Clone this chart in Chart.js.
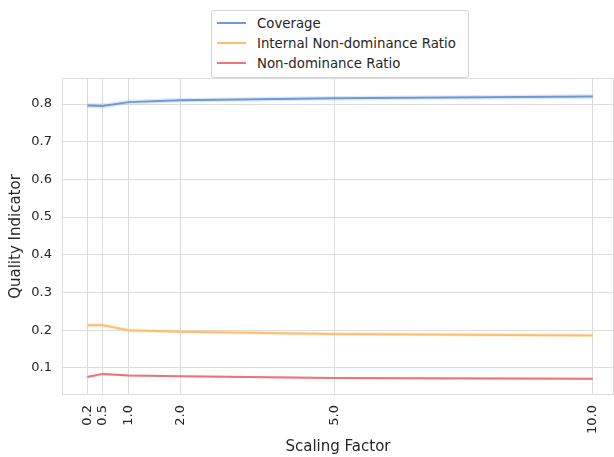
<!DOCTYPE html>
<html>
<head>
<meta charset="utf-8">
<script src="https://cdn.jsdelivr.net/npm/chart.js@4/dist/chart.umd.min.js"></script>
<style>
  html, body { margin: 0; padding: 0; background: #fff; }
  #wrap { position: relative; width: 614px; height: 457px; }
  #legend {
    position: absolute; left: 211px; top: 10px; width: 256px; height: 64px;
    border: 1px solid #d4d4d4; border-radius: 3px; background: #fff;
    font-family: "DejaVu Sans", sans-serif; font-size: 13.3px; color: #262626;
    padding-top: 2px;
  }
  .row { height: 20px; display: flex; align-items: center; }
  .swatch { width: 29px; height: 2px; margin-left: 5px; margin-right: 11px; }
</style>
</head>
<body>
<div id="wrap">
  <canvas id="chart" width="614" height="457"></canvas>
  <div id="legend"></div>
</div>
<script>
document.addEventListener("DOMContentLoaded", function () {
  const scalingFactors = [0.2, 0.5, 1.0, 2.0, 5.0, 10.0];
  const coverage = [0.796, 0.795, 0.805, 0.810, 0.815, 0.820];
  const internalRatio = [0.213, 0.213, 0.200, 0.196, 0.190, 0.186];
  const nonDomRatio = [0.076, 0.084, 0.080, 0.078, 0.073, 0.071];
  // spread of the shaded bands
  const coverageSpread = [0.007, 0.007, 0.006, 0.006, 0.006, 0.006];
  const internalSpread = [0.006, 0.006, 0.005, 0.005, 0.005, 0.005];
  const nonDomSpread = [0.004, 0.004, 0.003, 0.003, 0.003, 0.003];
  const yTicks = [0.1, 0.2, 0.3, 0.4, 0.5, 0.6, 0.7, 0.8];

  const series = [
    { label: "Coverage", values: coverage, spread: coverageSpread, color: "110,154,214" },
    { label: "Internal Non-dominance Ratio", values: internalRatio, spread: internalSpread, color: "255,190,110" },
    { label: "Non-dominance Ratio", values: nonDomRatio, spread: nonDomSpread, color: "238,116,118" },
  ];

  const pts = (vals, off, sign) =>
    scalingFactors.map((x, i) => ({ x: x, y: vals[i] + sign * (off ? off[i] : 0) }));

  const datasets = [];
  series.forEach(function (s) {
    datasets.push({
      data: pts(s.values, s.spread, -1),
      borderWidth: 0, pointRadius: 0, fill: false, borderColor: "transparent",
    });
    datasets.push({
      data: pts(s.values, s.spread, 1),
      borderWidth: 0, pointRadius: 0, fill: "-1", borderColor: "transparent",
      backgroundColor: "rgba(" + s.color + ",0.22)",
    });
  });
  series.forEach(function (s) {
    datasets.push({
      label: s.label,
      data: pts(s.values, null, 0),
      borderColor: "rgb(" + s.color + ")",
      borderWidth: 2, pointRadius: 0, fill: false, tension: 0,
    });
  });

  const legend = document.getElementById("legend");
  series.forEach(function (s) {
    const row = document.createElement("div");
    row.className = "row";
    row.innerHTML = '<span class="swatch" style="background:rgb(' + s.color + ')"></span><span>' + s.label + "</span>";
    legend.appendChild(row);
  });

  const frame = {
    id: "frame",
    beforeDatasetsDraw(chart) {
      const a = chart.chartArea;
      const c = chart.ctx;
      c.save();
      c.strokeStyle = "#dcdcdc";
      c.lineWidth = 1;
      c.strokeRect(a.left + 0.5, a.top + 0.5, a.right - a.left - 1, a.bottom - a.top - 1);
      c.restore();
    },
  };

  const font = { family: "'DejaVu Sans', sans-serif" };

  new Chart(document.getElementById("chart").getContext("2d"), {
    type: "line",
    data: { datasets: datasets },
    plugins: [frame],
    options: {
      responsive: false,
      animation: false,
      layout: { padding: { top: 78, left: 0, right: 0, bottom: 0 } },
      plugins: { legend: { display: false }, tooltip: { enabled: false } },
      scales: {
        x: {
          type: "linear",
          min: -0.29,
          max: 10.41,
          afterBuildTicks: function (scale) {
            scale.ticks = scalingFactors.map((v) => ({ value: v }));
          },
          afterFit: function (scale) {
            scale.height = 62;
            scale.paddingLeft = 0;
            scale.paddingRight = 0;
          },
          ticks: {
            autoSkip: false,
            minRotation: 90,
            maxRotation: 90,
            padding: 10,
            color: "#262626",
            font: Object.assign({ size: 13 }, font),
            callback: (v) => Number(v).toFixed(1),
          },
          grid: { color: "#dcdcdc", drawTicks: false },
          border: { display: false },
          title: {
            display: true, text: "Scaling Factor", color: "#262626",
            font: Object.assign({ size: 15 }, font),
            padding: { top: 0, bottom: 1 },
          },
        },
        y: {
          min: 0.028,
          max: 0.869,
          afterBuildTicks: function (scale) {
            scale.ticks = yTicks.map((v) => ({ value: v }));
          },
          afterFit: function (scale) {
            scale.width = 62;
            scale.paddingTop = 0;
            scale.paddingBottom = 0;
          },
          ticks: {
            padding: 10,
            color: "#262626",
            font: Object.assign({ size: 13 }, font),
            callback: (v) => Number(v).toFixed(1),
          },
          grid: { color: "#dcdcdc", drawTicks: false },
          border: { display: false },
          title: {
            display: true, text: "Quality Indicator", color: "#262626",
            font: Object.assign({ size: 15 }, font),
            padding: { top: 7, bottom: 0 },
          },
        },
      },
    },
  });
});
</script>
</body>
</html>
